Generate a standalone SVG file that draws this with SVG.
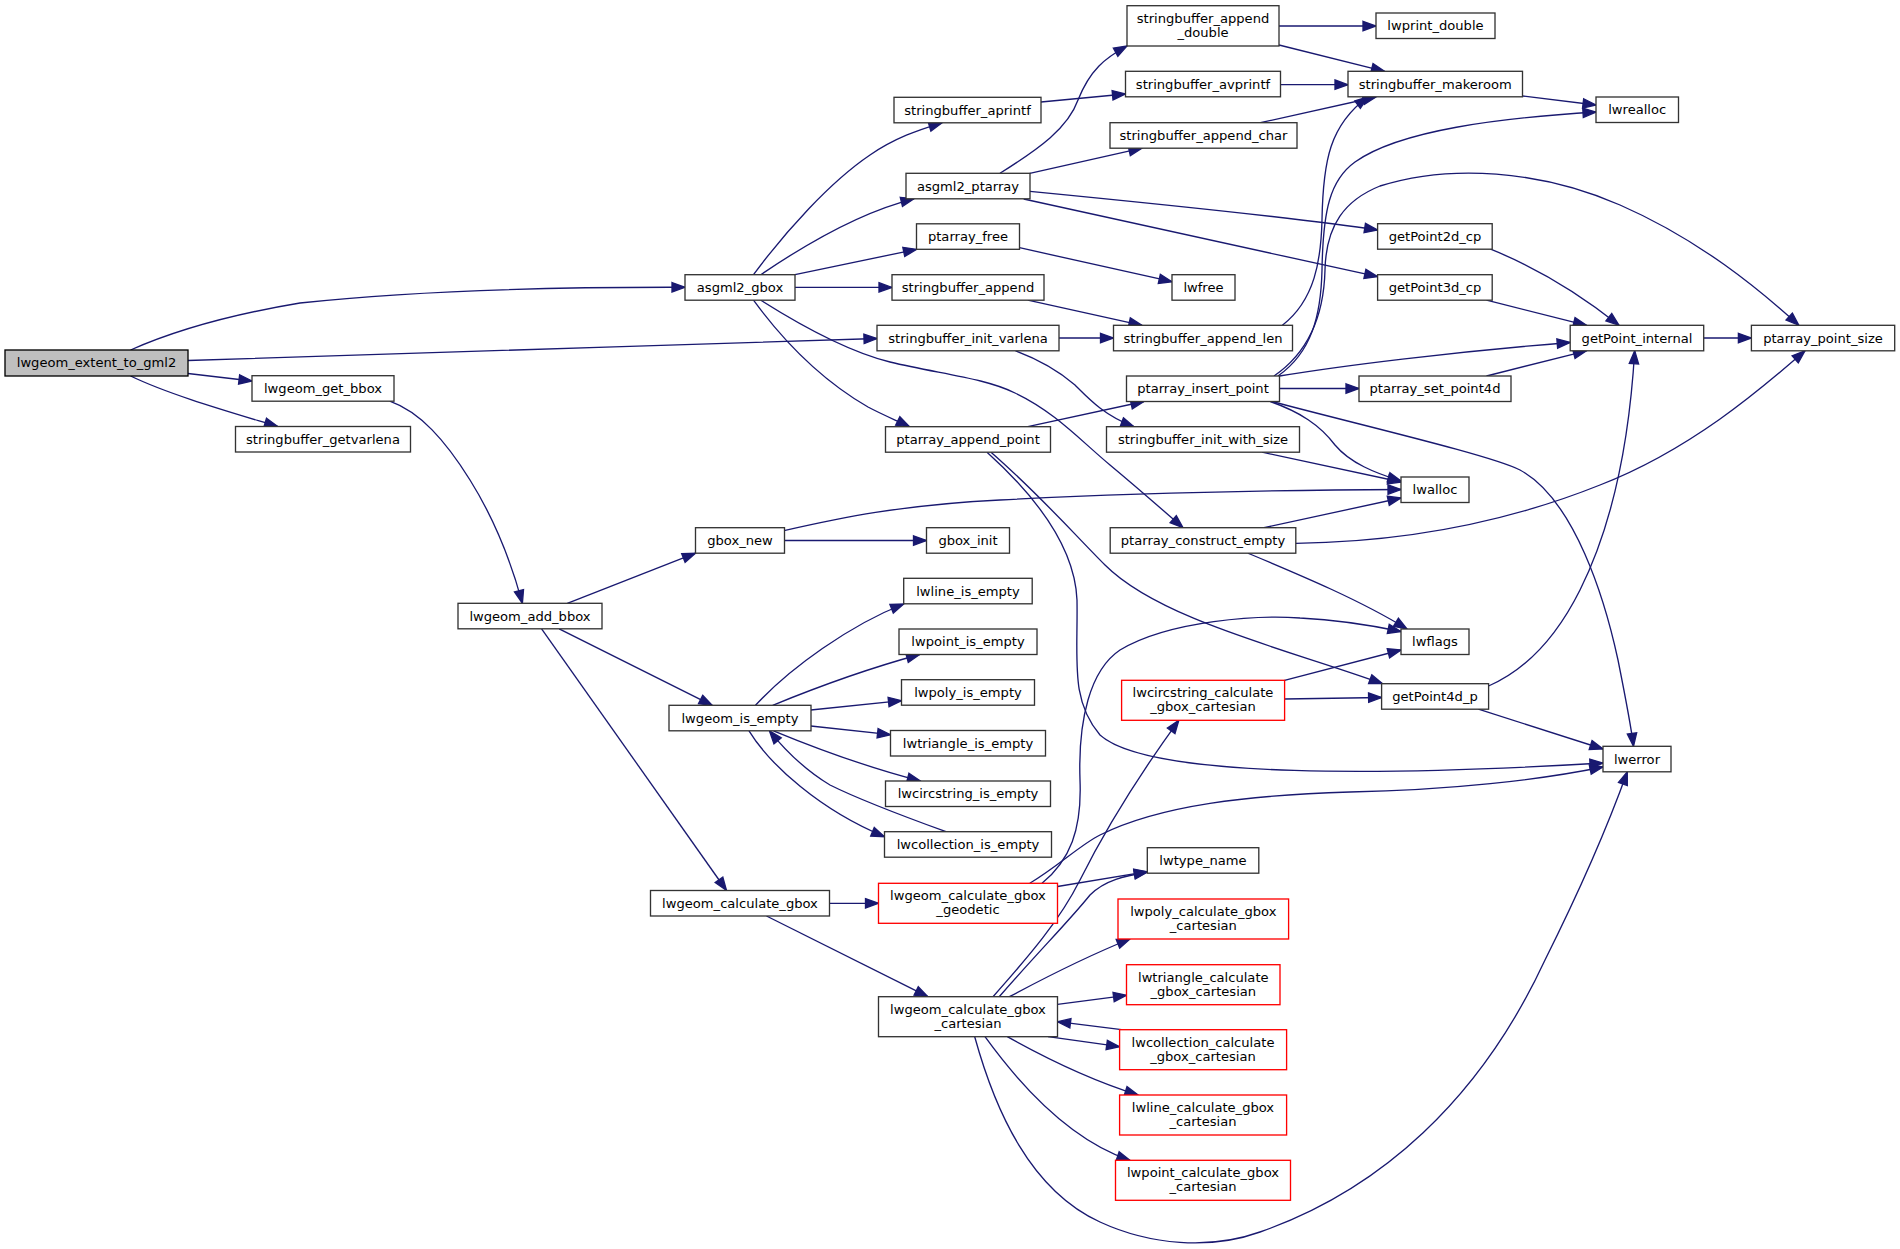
<svg xmlns="http://www.w3.org/2000/svg" width="1900" height="1249" viewBox="0 0 1900 1249">
<style>
.n rect{fill:#fff;stroke:#333;stroke-width:1.33}
.r rect{stroke:#ff0000}
.root rect{fill:#bfbfbf;stroke:#000}
text{font-family:"DejaVu Sans",sans-serif;font-size:13.1px;text-anchor:middle;fill:#000}
.e path{fill:none;stroke:#191970;stroke-width:1.33;marker-end:url(#a)}
</style>
<defs>
<marker id="a" markerUnits="userSpaceOnUse" markerWidth="16" markerHeight="12" refX="13" refY="5" orient="auto" overflow="visible">
<path d="M0,0.3 L13,5 L0,9.7 z" fill="#191970" stroke="#191970" stroke-width="1.33"/>
</marker>
</defs>
<rect width="1900" height="1249" fill="#fff"/>
<g id="edges" class="e">
<path d="M130.6,350 C180,328 240,313 300,303 C420,290 560,287 685,287.3"/>
<path d="M188,360.5 C400,353 650,346 877,338.5"/>
<path d="M188,373.5 L252,381"/>
<path d="M130.6,376 C170,395 230,412 277.6,426.5"/>
<path d="M389.8,401.2 C420,412 445,440 470,480 C495,520 512,565 522.4,603.3"/>
<path d="M753.5,274.7 C785,232 830,182 870,155 C895,138 918,130 942,122.8"/>
<path d="M760.8,274.7 C800,248 860,212 914,198.8"/>
<path d="M795,274.7 L916.5,249.3"/>
<path d="M795,287.4 L892,287.4"/>
<path d="M753.5,300.2 C790,350 830,385 868,407 C885,416 898,421 909.4,426.7"/>
<path d="M760.8,300.2 C800,325 850,352 890,362 C940,374 985,378 1015,393 C1055,412 1080,440 1110,465 C1140,490 1165,512 1183,527.7"/>
<path d="M1059,338 L1113.5,338"/>
<path d="M1015.5,350.8 C1040,360 1060,372 1075,385 C1090,400 1105,416 1134,426.7"/>
<path d="M1041,102 L1125.5,94"/>
<path d="M1000,173.3 C1040,148 1068,128 1078,100 C1090,70 1105,58 1127,46"/>
<path d="M1029.8,173.3 L1142,148.2"/>
<path d="M1030,191.3 C1150,203 1300,218 1377.6,230"/>
<path d="M1023.7,199 L1377.6,276.7"/>
<path d="M1019.5,247.7 L1172,281.7"/>
<path d="M1027.8,300.2 L1142,325.3"/>
<path d="M1279,26 L1376,26"/>
<path d="M1279,45 L1384.5,71.3"/>
<path d="M1280.5,84.7 L1348,84.7"/>
<path d="M1260.4,122.7 L1376,97"/>
<path d="M1522.5,96 L1596,105"/>
<path d="M1282.4,325.3 C1315,300 1321,260 1322,220 C1323,160 1330,125 1368,96.8"/>
<path d="M1278,376 C1312,352 1321,315 1322,270 C1323,210 1330,180 1355,162 C1400,130 1500,118 1596,112"/>
<path d="M1274,376 C1312,350 1324,310 1325,270 C1326,225 1345,200 1380,186 C1450,164 1540,170 1620,205 C1700,240 1760,290 1798.8,325.3"/>
<path d="M1490.6,249.2 C1530,265 1575,290 1619,325.3"/>
<path d="M1486.5,300.2 L1586.5,325.3"/>
<path d="M1703.7,338 L1751.4,338"/>
<path d="M1279.5,376 C1340,366 1450,352 1570.2,342.5"/>
<path d="M1486.5,376 L1586.5,350.8"/>
<path d="M1488.6,686 C1530,668 1560,630 1580,590 C1615,520 1630,430 1634.7,350.8"/>
<path d="M1279.5,388.5 L1359,388.5"/>
<path d="M1270.2,401.5 C1300,412 1320,425 1335,445 C1350,463 1375,473 1401,481"/>
<path d="M1272,401.5 C1360,425 1490,455 1520,470 C1575,500 1605,600 1618,660 C1626,700 1631,725 1633.5,746.3"/>
<path d="M1262,452.2 L1401,482"/>
<path d="M784,530.7 C840,518 900,505 1000,500 C1150,492 1300,490 1401,489.5"/>
<path d="M1264,527.7 L1401,498"/>
<path d="M1295.8,543.3 C1400,542 1500,525 1600,485 C1690,450 1760,390 1805,350.8"/>
<path d="M1248,553.2 C1300,575 1360,600 1407,629"/>
<path d="M784.5,540.5 L926.5,540.5"/>
<path d="M1027.8,426.7 L1144,401.5"/>
<path d="M991,452.2 C1040,495 1075,535 1105,565 C1160,620 1290,650 1382.4,683.7"/>
<path d="M987,452.2 C1040,500 1075,550 1077,600 C1078,660 1070,700 1100,735 C1150,780 1400,775 1603,763"/>
<path d="M1042,883.3 C1070,860 1082,830 1080,780 C1078,720 1090,670 1120,650 C1170,620 1260,615 1300,618 C1340,620 1370,625 1401,631.5"/>
<path d="M1029.8,883.3 C1060,865 1080,845 1100,835 C1160,805 1250,795 1350,792 C1450,790 1540,780 1603,767"/>
<path d="M1057.5,886.5 L1147.3,871.7"/>
<path d="M829.5,903.3 L878.5,903.3"/>
<path d="M766.5,916 L927.8,996.7"/>
<path d="M993,996.7 C1030,955 1060,920 1080,880 C1110,820 1150,760 1178.8,720.3"/>
<path d="M999.2,996.7 C1040,950 1070,920 1090,895 C1105,880 1125,876 1147.3,872"/>
<path d="M1009.4,996.7 C1050,975 1090,955 1130,939"/>
<path d="M1057.5,1004.3 L1126.5,995.3"/>
<path d="M1121.6,1029.7 L1057.5,1021.7"/>
<path d="M1048,1036.7 L1119.6,1046.7"/>
<path d="M1007.3,1036.7 C1040,1055 1090,1080 1138,1095"/>
<path d="M985,1036.7 C1020,1085 1070,1140 1130,1160.3"/>
<path d="M974.7,1036.7 C995,1110 1030,1190 1100,1222 C1150,1245 1210,1250 1260,1232 C1380,1190 1480,1100 1545,960 C1580,890 1610,820 1627.3,771.8"/>
<path d="M1284.5,680.3 L1401,650"/>
<path d="M1284.5,699 L1381.6,697.5"/>
<path d="M1478.4,709.2 L1603,749"/>
<path d="M567.3,603.3 L695.5,553.2"/>
<path d="M559.2,628.8 L712.2,705.3"/>
<path d="M541.6,628.8 L726.5,890.5"/>
<path d="M755.5,705.3 C790,668 850,625 903.7,604"/>
<path d="M772.7,705.3 C810,690 870,668 919.6,654.5"/>
<path d="M810.8,710 L901.5,700.7"/>
<path d="M810.8,726 L890.5,734.7"/>
<path d="M773.5,730.8 C820,750 870,768 920.4,781"/>
<path d="M749,730.8 C770,765 820,810 884.5,836.7"/>
<path d="M946,831.7 C900,815 860,800 830,785 C805,770 785,750 769.4,730.8"/>
</g>
<g id="n1" class="n root"><rect x="5" y="350" width="183" height="26"/><text x="96.5" y="367.3">lwgeom_extent_to_gml2</text></g>
<g id="n2" class="n"><rect x="685" y="274.7" width="110" height="25.5"/><text x="740" y="292">asgml2_gbox</text></g>
<g id="n3" class="n"><rect x="877" y="325.3" width="182" height="25.5"/><text x="968" y="342.6">stringbuffer_init_varlena</text></g>
<g id="n4" class="n"><rect x="252" y="375.7" width="142" height="25.5"/><text x="323" y="393">lwgeom_get_bbox</text></g>
<g id="n5" class="n"><rect x="235.5" y="426.5" width="175" height="25.5"/><text x="323" y="443.8">stringbuffer_getvarlena</text></g>
<g id="n6" class="n"><rect x="458" y="603.3" width="144" height="25.5"/><text x="530" y="620.6">lwgeom_add_bbox</text></g>
<g id="n7" class="n"><rect x="894" y="97.3" width="147" height="25.5"/><text x="967.5" y="114.6">stringbuffer_aprintf</text></g>
<g id="n8" class="n"><rect x="906" y="173.3" width="124" height="25.5"/><text x="968" y="190.6">asgml2_ptarray</text></g>
<g id="n9" class="n"><rect x="916.5" y="223.8" width="103" height="25.5"/><text x="968" y="241.1">ptarray_free</text></g>
<g id="n10" class="n"><rect x="892" y="274.7" width="152" height="25.5"/><text x="968" y="292">stringbuffer_append</text></g>
<g id="n11" class="n"><rect x="885.5" y="426.7" width="165" height="25.5"/><text x="968" y="444">ptarray_append_point</text></g>
<g id="n12" class="n"><rect x="926.5" y="527.7" width="83" height="25.5"/><text x="968" y="545">gbox_init</text></g>
<g id="n13" class="n"><rect x="903.7" y="578.3" width="128.5" height="25.5"/><text x="968" y="595.6">lwline_is_empty</text></g>
<g id="n14" class="n"><rect x="899" y="629" width="138" height="25.5"/><text x="968" y="646.3">lwpoint_is_empty</text></g>
<g id="n15" class="n"><rect x="901.5" y="679.7" width="133" height="25.5"/><text x="968" y="697">lwpoly_is_empty</text></g>
<g id="n16" class="n"><rect x="890.5" y="730.5" width="155" height="25.5"/><text x="968" y="747.8">lwtriangle_is_empty</text></g>
<g id="n17" class="n"><rect x="885.5" y="781" width="165" height="25.5"/><text x="968" y="798.3">lwcircstring_is_empty</text></g>
<g id="n18" class="n"><rect x="884.5" y="831.7" width="167" height="25.5"/><text x="968" y="849">lwcollection_is_empty</text></g>
<g id="n19" class="n r"><rect x="878.5" y="883.3" width="179" height="40"/><text x="968" y="900.1">lwgeom_calculate_gbox</text><text x="968" y="914.1">_geodetic</text></g>
<g id="n20" class="n"><rect x="878.5" y="996.7" width="179" height="40"/><text x="968" y="1013.5">lwgeom_calculate_gbox</text><text x="968" y="1027.5">_cartesian</text></g>
<g id="n21" class="n"><rect x="695.5" y="527.7" width="89" height="25.5"/><text x="740" y="545">gbox_new</text></g>
<g id="n22" class="n"><rect x="669" y="705.3" width="142" height="25.5"/><text x="740" y="722.6">lwgeom_is_empty</text></g>
<g id="n23" class="n"><rect x="650.5" y="890.5" width="179" height="25.5"/><text x="740" y="907.8">lwgeom_calculate_gbox</text></g>
<g id="n24" class="n"><rect x="1127" y="5.7" width="152" height="40.3"/><text x="1203" y="22.5">stringbuffer_append</text><text x="1203" y="36.5">_double</text></g>
<g id="n25" class="n"><rect x="1125.5" y="71.3" width="155" height="25.5"/><text x="1203" y="88.6">stringbuffer_avprintf</text></g>
<g id="n26" class="n"><rect x="1110" y="122.7" width="187" height="25.5"/><text x="1203.5" y="140">stringbuffer_append_char</text></g>
<g id="n27" class="n"><rect x="1172" y="274.7" width="63" height="25.5"/><text x="1203.5" y="292">lwfree</text></g>
<g id="n28" class="n"><rect x="1113.5" y="325.3" width="179" height="25.5"/><text x="1203" y="342.6">stringbuffer_append_len</text></g>
<g id="n29" class="n"><rect x="1126.5" y="376" width="153" height="25.5"/><text x="1203" y="393.3">ptarray_insert_point</text></g>
<g id="n30" class="n"><rect x="1106.5" y="426.7" width="193" height="25.5"/><text x="1203" y="444">stringbuffer_init_with_size</text></g>
<g id="n31" class="n"><rect x="1110.2" y="527.7" width="185.6" height="25.5"/><text x="1203" y="545">ptarray_construct_empty</text></g>
<g id="n32" class="n r"><rect x="1121.6" y="680.3" width="163" height="40"/><text x="1203" y="697.1">lwcircstring_calculate</text><text x="1203" y="711.1">_gbox_cartesian</text></g>
<g id="n33" class="n"><rect x="1147.3" y="847.7" width="111.5" height="25.5"/><text x="1203" y="865">lwtype_name</text></g>
<g id="n34" class="n r"><rect x="1118" y="899" width="170.6" height="40"/><text x="1203.3" y="915.8">lwpoly_calculate_gbox</text><text x="1203.3" y="929.8">_cartesian</text></g>
<g id="n35" class="n r"><rect x="1126.5" y="964.7" width="153.5" height="40"/><text x="1203.3" y="981.5">lwtriangle_calculate</text><text x="1203.3" y="995.5">_gbox_cartesian</text></g>
<g id="n36" class="n r"><rect x="1119.6" y="1029.7" width="167" height="40"/><text x="1203" y="1046.5">lwcollection_calculate</text><text x="1203" y="1060.5">_gbox_cartesian</text></g>
<g id="n37" class="n r"><rect x="1119.6" y="1095" width="167" height="40"/><text x="1203" y="1111.8">lwline_calculate_gbox</text><text x="1203" y="1125.8">_cartesian</text></g>
<g id="n38" class="n r"><rect x="1115.5" y="1160.3" width="175" height="40"/><text x="1203" y="1177.1">lwpoint_calculate_gbox</text><text x="1203" y="1191.1">_cartesian</text></g>
<g id="n39" class="n"><rect x="1376" y="13" width="119" height="25.5"/><text x="1435.5" y="30.3">lwprint_double</text></g>
<g id="n40" class="n"><rect x="1348" y="71.3" width="174.5" height="25.5"/><text x="1435.2" y="88.6">stringbuffer_makeroom</text></g>
<g id="n41" class="n"><rect x="1377.6" y="223.7" width="114.6" height="25.5"/><text x="1435" y="241">getPoint2d_cp</text></g>
<g id="n42" class="n"><rect x="1377.6" y="274.7" width="114.6" height="25.5"/><text x="1435" y="292">getPoint3d_cp</text></g>
<g id="n43" class="n"><rect x="1359" y="376" width="152" height="25.5"/><text x="1435" y="393.3">ptarray_set_point4d</text></g>
<g id="n44" class="n"><rect x="1401" y="477" width="68" height="25.5"/><text x="1435" y="494.3">lwalloc</text></g>
<g id="n45" class="n"><rect x="1401" y="629" width="68" height="25.5"/><text x="1435" y="646.3">lwflags</text></g>
<g id="n46" class="n"><rect x="1381.6" y="683.7" width="107" height="25.5"/><text x="1435" y="701">getPoint4d_p</text></g>
<g id="n47" class="n"><rect x="1596" y="97" width="82.5" height="25.5"/><text x="1637.2" y="114.3">lwrealloc</text></g>
<g id="n48" class="n"><rect x="1570.2" y="325.3" width="133.5" height="25.5"/><text x="1637" y="342.6">getPoint_internal</text></g>
<g id="n49" class="n"><rect x="1603" y="746.3" width="68" height="25.5"/><text x="1637" y="763.6">lwerror</text></g>
<g id="n50" class="n"><rect x="1751.4" y="325.3" width="143.3" height="25.5"/><text x="1823" y="342.6">ptarray_point_size</text></g>
</svg>
